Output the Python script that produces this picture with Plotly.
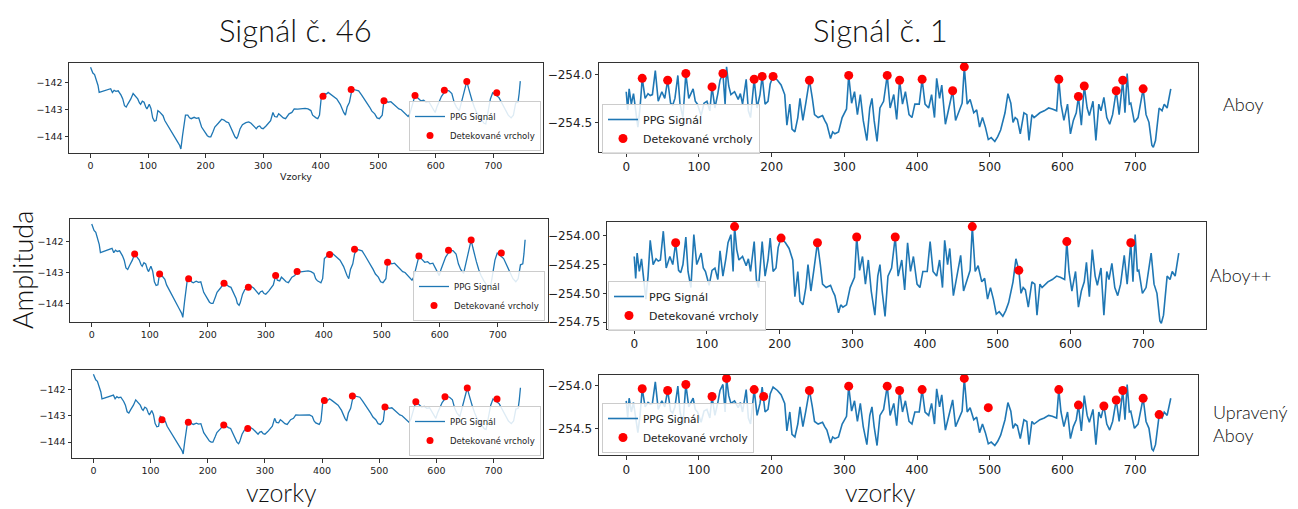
import plotly.graph_objects as go

W, H = 1298, 509

# ---------------- data ----------------
# Signál č. 46 (left column) - sample index / amplitude
sig46_x = [0, 2, 4, 7, 10, 13, 15, 20, 25, 30, 35, 38, 41, 44, 48, 53, 56, 59, 62, 65, 70, 74, 78, 82, 85, 87,
           90, 93, 96, 98, 102, 105, 108, 111, 114, 117, 120, 123, 126, 129, 135, 141, 146, 151, 155, 157, 160,
           163, 165, 169, 172, 175, 180, 184, 188, 193, 198, 203, 206, 209, 213, 216, 222, 228, 232, 236, 240,
           245, 249, 251, 254, 256, 260, 264, 270, 275, 279, 284, 288, 291, 294, 297, 300, 305, 309, 313, 317,
           320, 324, 327, 330, 335, 339, 342, 345, 350, 354, 360, 366, 373, 378, 383, 386, 389, 392, 395, 398,
           401, 404, 407, 410, 413, 417, 422, 428, 434, 437, 440, 443, 446, 450, 453, 457, 462, 466, 471, 476,
           480, 485, 489, 494, 498, 502, 507, 510, 513, 517, 522, 527, 531, 536, 540, 545, 549, 552, 555, 559,
           562, 564, 568, 571, 574, 579, 583, 588, 592, 596, 599, 602, 605, 610, 615, 619, 623, 628, 632, 636,
           641, 645, 650, 654, 657, 660, 663, 667, 671, 676, 680, 684, 687, 689, 692, 695, 699, 703, 706, 710,
           714, 717, 722, 726, 731, 735, 739, 743, 745, 747, 749]
sig46_y = [-141.43, -141.55, -141.64, -141.7, -141.88, -142.1, -142.36, -142.32, -142.3, -142.26, -142.22,
           -142.36, -142.28, -142.32, -142.3, -142.46, -142.6, -142.85, -142.9, -142.78, -142.6, -142.4, -142.5,
           -142.6, -142.75, -142.8, -142.68, -142.72, -142.9, -142.97, -142.8, -142.95, -143.3, -143.42, -143.4,
           -143.03, -143.08, -143.15, -143.22, -143.4, -143.6, -143.82, -143.98, -144.18, -144.32, -144.45,
           -143.94, -143.4, -143.2, -143.2, -143.3, -143.33, -143.28, -143.32, -143.3, -143.64, -143.8, -143.96,
           -144.0, -144.0, -143.8, -143.64, -143.5, -143.35, -143.38, -143.45, -143.48, -143.7, -143.85, -144.0,
           -144.06, -143.98, -143.7, -143.55, -143.48, -143.45, -143.5, -143.6, -143.7, -143.62, -143.6, -143.68,
           -143.7, -143.6, -143.5, -143.4, -143.1, -143.25, -143.27, -143.15, -143.2, -143.3, -143.33, -143.22,
           -143.15, -143.1, -142.97, -142.98, -142.97, -142.95, -142.97, -143.03, -143.2, -143.27, -143.3,
           -143.33, -143.2, -142.55, -142.5, -142.4, -142.42, -142.36, -142.42, -142.5, -142.6, -142.8, -142.97,
           -143.1, -143.2, -142.9, -142.72, -142.4, -142.25, -142.28, -142.3, -142.45, -142.6, -142.75, -142.9,
           -143.05, -143.15, -143.3, -143.33, -143.2, -142.67, -142.65, -142.72, -142.7, -142.8, -142.9, -142.97,
           -143.0, -143.1, -143.2, -143.25, -143.15, -142.8, -142.55, -142.47, -142.55, -142.62, -142.67, -142.65,
           -142.72, -142.7, -142.85, -143.0, -143.1, -142.9, -142.72, -142.5, -142.36, -142.28, -142.3, -142.4,
           -142.72, -142.9, -143.03, -142.7, -142.36, -141.95, -142.2, -142.48, -142.65, -142.9, -143.1, -143.27,
           -143.4, -143.5, -143.52, -143.3, -142.9, -142.6, -142.37, -142.45, -142.48, -142.55, -142.7, -142.85,
           -143.0, -143.2, -143.3, -143.2, -142.75, -142.72, -142.4, -141.94]

# Signál č. 1 (right column)
sig1_x = [0, 2, 4, 7, 10, 13, 16, 19, 22, 26, 30, 33, 36, 40, 44, 49, 53, 57, 61, 64, 67, 71, 74, 78, 82, 86,
          89, 92, 95, 98, 103, 107, 111, 115, 118, 122, 126, 129, 133, 136, 138, 141, 144, 149, 154, 157, 160,
          165, 168, 171, 176, 180, 184, 187, 191, 195, 198, 202, 208, 213, 218, 221, 225, 228, 232, 236, 239,
          243, 247, 252, 256, 259, 264, 267, 270, 273, 276, 281, 284, 287, 292, 297, 300, 303, 306, 310, 314,
          318, 322, 326, 331, 335, 338, 341, 345, 349, 354, 359, 363, 368, 372, 376, 380, 384, 389, 393, 397,
          403, 407, 411, 416, 420, 424, 427, 431, 434, 439, 444, 449, 453, 458, 462, 465, 469, 473, 478, 482,
          486, 490, 494, 498, 502, 507, 511, 515, 518, 521, 525, 529, 532, 535, 538, 542, 547, 551, 554, 558,
          561, 564, 569, 575, 581, 586, 592, 595, 598, 602, 607, 611, 615, 619, 622, 626, 630, 634, 637, 642,
          646, 650, 653, 657, 661, 665, 669, 674, 678, 683, 686, 689, 692, 694, 699, 704, 708, 711, 715, 719,
          723, 725, 728, 733, 737, 740, 744, 746, 749]
sig1_y = [-254.18, -254.37, -254.15, -254.31, -254.2, -254.38, -254.55, -254.35, -254.04, -254.25, -254.2,
          -254.22, -254.21, -253.96, -254.28, -254.18, -254.25, -254.06, -254.3, -254.32, -254.25, -254.01,
          -254.31, -254.45, -253.99, -254.25, -254.2, -254.15, -254.28, -254.31, -254.43, -254.3, -254.28,
          -254.38, -254.13, -254.35, -254.2, -254.06, -253.99, -254.31, -253.92, -254.12, -254.21, -254.18,
          -254.26, -254.2, -254.31, -254.05, -254.38, -254.45, -254.05, -254.35, -254.21, -254.02, -254.31,
          -254.28, -254.1, -254.02, -254.06, -254.11, -254.21, -254.53, -254.31, -254.57, -254.6, -254.45,
          -254.25, -254.48, -254.3, -254.06, -254.25, -254.42, -254.45, -254.44, -254.43, -254.48, -254.52,
          -254.67, -254.6, -254.62, -254.6, -254.45, -254.4, -254.36, -254.01, -254.3, -254.18, -254.42,
          -254.21, -254.48, -254.69, -254.35, -254.25, -254.48, -254.7, -254.35, -254.28, -254.01, -254.35,
          -254.21, -254.47, -254.06, -254.31, -254.18, -254.42, -254.45, -254.31, -254.31, -254.05, -254.31,
          -254.35, -254.21, -254.45, -254.04, -254.25, -254.11, -254.52, -254.35, -254.17, -254.48, -254.38,
          -254.3, -253.92, -254.31, -254.26, -254.4, -254.37, -254.55, -254.45, -254.55, -254.68, -254.66,
          -254.7, -254.65, -254.58, -254.48, -254.4, -254.2, -254.3, -254.5, -254.45, -254.47, -254.62, -254.4,
          -254.42, -254.69, -254.42, -254.45, -254.43, -254.4, -254.38, -254.35, -254.36, -254.38, -254.05,
          -254.31, -254.48, -254.31, -254.62, -254.48, -254.4, -254.23, -254.53, -254.12, -254.35, -254.43,
          -254.28, -254.69, -254.31, -254.38, -254.24, -254.45, -254.52, -254.42, -254.17, -254.42, -254.06,
          -254.4, -253.99, -254.31, -254.3, -254.5, -254.45, -254.3, -254.15, -254.42, -254.5, -254.74, -254.76,
          -254.69, -254.35, -254.38, -254.31, -254.35, -254.28, -254.15]

# detected peaks per method
p46_aboy_x = [404, 453, 510, 564, 615, 654, 706]
p46_aboy_y = [-142.5, -142.25, -142.67, -142.47, -142.28, -141.95, -142.37]
p46_aboypp_x = [74, 117, 167, 228, 270, 317, 354, 410, 453, 510, 564, 615, 654, 706]
p46_aboypp_y = [-142.4, -143.05, -143.2, -143.35, -143.48, -143.1, -142.97, -142.42, -142.25, -142.67, -142.47,
                -142.28, -141.95, -142.37]
p46_upr_x = [120, 166, 228, 270, 404, 453, 510, 564, 615, 654, 706]
p46_upr_y = [-143.15, -143.25, -143.35, -143.48, -142.42, -142.25, -142.67, -142.47, -142.28, -141.95, -142.37]

p1_aboy_x = [22, 57, 82, 118, 133, 176, 187, 202, 252, 306, 359, 376, 407, 449, 465, 595, 622, 630, 674, 683, 711]
p1_aboy_y = [-254.04, -254.06, -253.99, -254.13, -253.99, -254.05, -254.02, -254.02, -254.06, -254.01, -254.01,
             -254.06, -254.05, -254.17, -253.92, -254.05, -254.23, -254.12, -254.17, -254.06, -254.15]
p1_aboypp_x = [57, 138, 202, 252, 306, 359, 465, 529, 595, 683]
p1_aboypp_y = [-254.06, -253.92, -254.02, -254.06, -254.01, -254.01, -253.92, -254.3, -254.05, -254.06]
p1_upr_x = [22, 57, 82, 118, 138, 176, 189, 252, 306, 359, 376, 407, 465, 498, 595, 622, 657, 674, 683, 711, 733]
p1_upr_y = [-254.04, -254.06, -253.99, -254.13, -253.92, -254.05, -254.13, -254.06, -254.01, -254.01, -254.06,
            -254.05, -253.92, -254.26, -254.05, -254.23, -254.24, -254.17, -254.06, -254.15, -254.34]

x_ticks = [0, 100, 200, 300, 400, 500, 600, 700]
series_name = "PPG Signál"
peaks_name = "Detekované vrcholy"

# ---------------- layout geometry (pixels) ----------------
def xd(a, b):
    return [a / W, b / W]

def yd(top, bottom):
    return [1 - bottom / H, 1 - top / H]

panels = [
    dict(sx=sig46_x, sy=sig46_y, px=p46_aboy_x, py=p46_aboy_y, xp=(69, 543), yp=(63, 153),
         yr=[-144.6, -141.27], dt=1, fmt="d", fs=9.5, ms=7, lw=1.3,
         leg=dict(x=541, y=151, xa="right", ya="bottom", fs=8.5)),
    dict(sx=sig1_x, sy=sig1_y, px=p1_aboy_x, py=p1_aboy_y, xp=(599, 1198), yp=(63, 152),
         yr=[-254.81, -253.88], dt=0.5, fmt=".1f", fs=12, ms=9, lw=1.6,
         leg=dict(x=602, y=104, xa="left", ya="top", fs=11)),
    dict(sx=sig46_x, sy=sig46_y, px=p46_aboypp_x, py=p46_aboypp_y, xp=(70, 548), yp=(219, 322),
         yr=[-144.6, -141.27], dt=1, fmt="d", fs=9.5, ms=7, lw=1.3,
         leg=dict(x=545, y=321, xa="right", ya="bottom", fs=8.5)),
    dict(sx=sig1_x, sy=sig1_y, px=p1_aboypp_x, py=p1_aboypp_y, xp=(607, 1206), yp=(222, 329),
         yr=[-254.81, -253.88], dt=0.25, fmt=".2f", fs=12, ms=9, lw=1.6,
         leg=dict(x=608, y=281, xa="left", ya="top", fs=11)),
    dict(sx=sig46_x, sy=sig46_y, px=p46_upr_x, py=p46_upr_y, xp=(72, 543), yp=(370, 458),
         yr=[-144.6, -141.27], dt=1, fmt="d", fs=9.5, ms=7, lw=1.3,
         leg=dict(x=541, y=456, xa="right", ya="bottom", fs=8.5)),
    dict(sx=sig1_x, sy=sig1_y, px=p1_upr_x, py=p1_upr_y, xp=(599, 1198), yp=(375, 455),
         yr=[-254.81, -253.88], dt=0.5, fmt=".1f", fs=12, ms=9, lw=1.6,
         leg=dict(x=602, y=453, xa="left", ya="bottom", fs=10.5)),
]

fig = go.Figure()
layout = dict(
    width=W, height=H, margin=dict(l=0, r=0, t=0, b=0),
    paper_bgcolor="white", plot_bgcolor="white", showlegend=True,
)
tick_font_family = "DejaVu Sans"

for i, p in enumerate(panels, start=1):
    xa = "x" if i == 1 else f"x{i}"
    ya = "y" if i == 1 else f"y{i}"
    lg = "legend" if i == 1 else f"legend{i}"
    fig.add_trace(go.Scatter(x=p["sx"], y=p["sy"], mode="lines", name=series_name,
                             line=dict(color="#1f77b4", width=p["lw"]), xaxis=xa, yaxis=ya,
                             legend=lg, showlegend=True, hoverinfo="skip"))
    fig.add_trace(go.Scatter(x=p["px"], y=p["py"], mode="markers", name=peaks_name,
                             marker=dict(color="red", size=p["ms"]), xaxis=xa, yaxis=ya,
                             legend=lg, showlegend=True))
    axcommon = dict(showline=True, linecolor="#333", linewidth=1, mirror=True, ticks="outside",
                    ticklen=3.5, tickcolor="#333", showgrid=False, zeroline=False,
                    tickfont=dict(family=tick_font_family, size=p["fs"], color="#222"))
    layout["xaxis" if i == 1 else f"xaxis{i}"] = dict(
        domain=xd(*p["xp"]), range=[-37.45, 786.45], tickvals=x_ticks, anchor=ya, **axcommon)
    layout["yaxis" if i == 1 else f"yaxis{i}"] = dict(
        domain=yd(*p["yp"]), range=p["yr"], dtick=p["dt"], tickformat=p["fmt"], anchor=xa, **axcommon)
    L = p["leg"]
    layout[lg] = dict(x=L["x"] / W, y=1 - L["y"] / H, xanchor=L["xa"], yanchor=L["ya"],
                      xref="paper", yref="paper", bgcolor="rgba(255,255,255,0.85)",
                      bordercolor="#cccccc", borderwidth=1, itemwidth=30,
                      font=dict(family=tick_font_family, size=L["fs"], color="#222"),
                      tracegroupgap=0)

fig.update_layout(**layout)

big = "Lato"
ann = [
    dict(text="Signál č. 46", x=295, y=30, size=31, ya="middle"),
    dict(text="Signál č. 1", x=880, y=30, size=31, ya="middle"),
    dict(text="vzorky", x=281, y=509, size=25, ya="bottom"),
    dict(text="vzorky", x=880, y=509, size=25, ya="bottom"),
    dict(text="Aboy", x=1243, y=104, size=18, ya="middle"),
    dict(text="Aboy++", x=1240, y=275, size=18, ya="middle"),
    dict(text="Upravený<br>Aboy", x=1250, y=423, size=18, ya="middle", align="left"),
]
for a in ann:
    fig.add_annotation(text=a["text"], x=a["x"] / W, y=1 - a["y"] / H, xref="paper", yref="paper",
                       showarrow=False, xanchor="center", yanchor=a["ya"], align=a.get("align", "center"),
                       font=dict(family=big, size=a["size"], color="#111", weight=300))
fig.add_annotation(text="Amplituda", x=22 / W, y=1 - 270 / H, xref="paper", yref="paper", showarrow=False,
                   textangle=-90, xanchor="center", yanchor="middle",
                   font=dict(family=big, size=27, color="#111", weight=300))
fig.add_annotation(text="Vzorky", x=296 / W, y=1 - 176 / H, xref="paper", yref="paper", showarrow=False,
                   xanchor="center", yanchor="middle",
                   font=dict(family=tick_font_family, size=9.5, color="#222"))

fig.write_html("out.html")
